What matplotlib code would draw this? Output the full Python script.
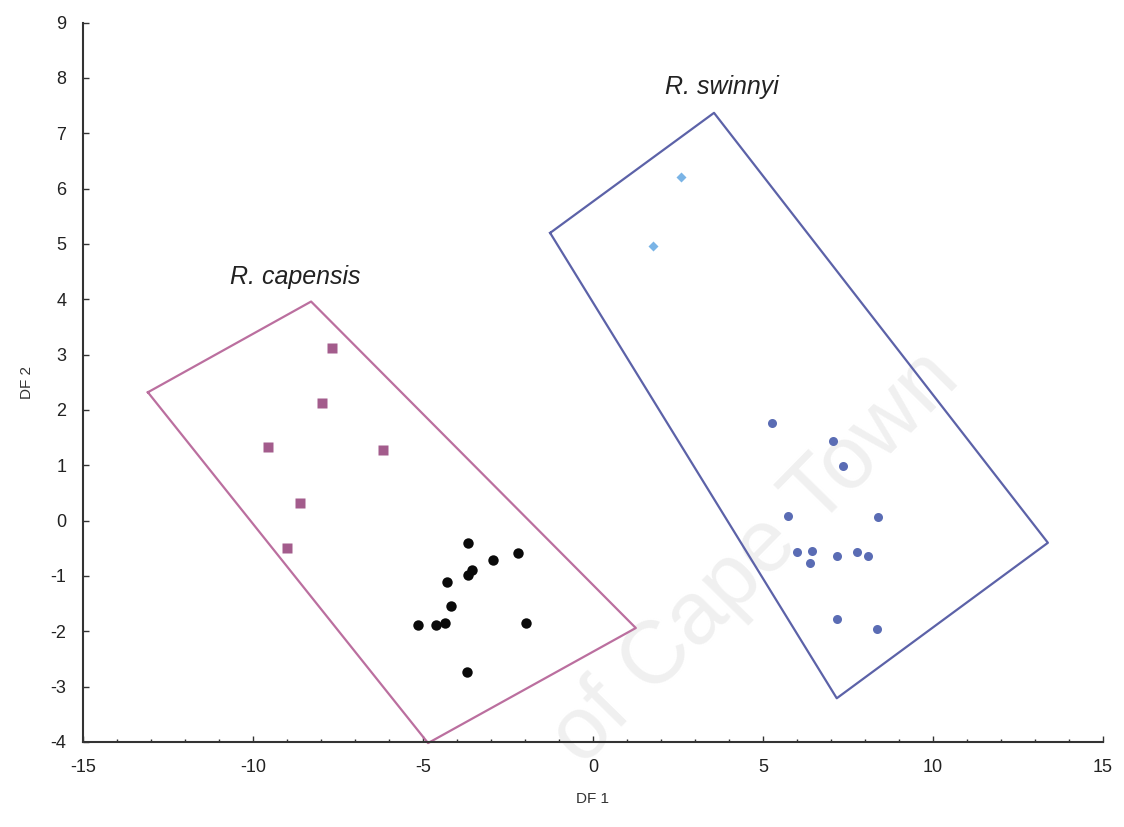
import matplotlib
matplotlib.use("Agg")
import matplotlib.pyplot as plt
from matplotlib.ticker import MultipleLocator

plt.rcParams['axes.unicode_minus'] = False

# R. capensis group A (squares)
cap_sq_x = [-7.68, -7.97, -9.56, -6.18, -8.62, -9.00]
cap_sq_y = [3.12, 2.13, 1.33, 1.28, 0.32, -0.49]
# R. capensis group B (black circles)
cap_ci_x = [-3.69, -2.20, -2.95, -3.57, -3.67, -4.30, -4.18, -5.16, -4.62, -4.35, -1.96, -3.71]
cap_ci_y = [-0.41, -0.59, -0.71, -0.89, -0.98, -1.10, -1.55, -1.88, -1.88, -1.85, -1.85, -2.73]
# R. swinnyi group A (blue)
swi_x = [5.26, 7.07, 7.36, 5.74, 8.39, 5.99, 6.45, 6.38, 7.19, 7.77, 8.10, 7.19, 8.36]
swi_y = [1.76, 1.44, 0.99, 0.08, 0.07, -0.56, -0.54, -0.77, -0.63, -0.56, -0.63, -1.78, -1.96]
# R. swinnyi group B (light blue diamonds)
swi2_x = [2.59, 1.77]
swi2_y = [6.21, 4.97]

# enclosing polygons
cap_poly_x = [-13.09, -8.29, 1.26, -4.85]
cap_poly_y = [2.32, 3.96, -1.94, -4.02]
swi_poly_x = [-1.26, 3.56, 13.38, 7.17]
swi_poly_y = [5.20, 7.37, -0.40, -3.21]

x_ticks = [-15, -10, -5, 0, 5, 10, 15]
y_ticks = [-4, -3, -2, -1, 0, 1, 2, 3, 4, 5, 6, 7, 8, 9]

tick_font = ['Liberation Sans Narrow', 'Liberation Sans', 'DejaVu Sans']

fig = plt.figure(figsize=(11.24, 8.27), dpi=100)
ax = fig.add_axes([0.0738, 0.1028, 0.9075, 0.8698])

# watermark
fig.text(0.672, 0.325, "of Cape Town", rotation=45.5, fontsize=64,
         color='#f0f0f0', ha='center', va='center', zorder=-1,
         family=['Liberation Sans', 'DejaVu Sans'])

ax.plot(cap_poly_x + cap_poly_x[:1], cap_poly_y + cap_poly_y[:1],
        color='#bb6f9f', lw=1.6, zorder=2, clip_on=False)
ax.plot(swi_poly_x + swi_poly_x[:1], swi_poly_y + swi_poly_y[:1],
        color='#5c62a8', lw=1.6, zorder=2, clip_on=False)

ax.plot(cap_sq_x, cap_sq_y, 's', color='#a35c8c', ms=7, mec='none', zorder=3)
ax.plot(cap_ci_x, cap_ci_y, 'o', color='#0a0a0a', ms=7.5, mec='none', zorder=3)
ax.plot(swi_x, swi_y, 'o', color='#5a6cb4', ms=6.5, mec='none', zorder=3)
ax.plot(swi2_x, swi2_y, 'D', color='#7ab4e6', ms=5, mec='none', zorder=3)

ax.text(-10.68, 4.40, "R. capensis", fontsize=18, style='italic', color='#222222',
        ha='left', va='center', family=['Liberation Sans', 'DejaVu Sans'])
ax.text(2.12, 7.84, "R. swinnyi", fontsize=18, style='italic', color='#222222',
        ha='left', va='center', family=['Liberation Sans', 'DejaVu Sans'])

ax.set_xlim(-15, 15)
ax.set_ylim(-4, 9)
ax.set_xticks(x_ticks)
ax.set_yticks(y_ticks)
ax.xaxis.set_minor_locator(MultipleLocator(1))
ax.patch.set_alpha(0)
for s in ['top', 'right']:
    ax.spines[s].set_visible(False)
for s in ['left', 'bottom']:
    ax.spines[s].set_color('#333333')
    ax.spines[s].set_linewidth(1.5)
ax.tick_params(axis='both', which='major', direction='in', length=4, width=1,
               colors='#333333', labelsize=13, pad=12)
ax.tick_params(axis='x', which='minor', direction='in', length=2.5, width=1, colors='#333333')
for lab in ax.get_xticklabels() + ax.get_yticklabels():
    lab.set_family(tick_font)
    lab.set_color('#222222')

ax.set_xlabel("DF 1", fontsize=11, color='#333333', labelpad=12,
              family=tick_font)
ax.set_ylabel("DF 2", fontsize=11, color='#333333', labelpad=12,
              family=tick_font)

fig.savefig("out.png", dpi=100)
